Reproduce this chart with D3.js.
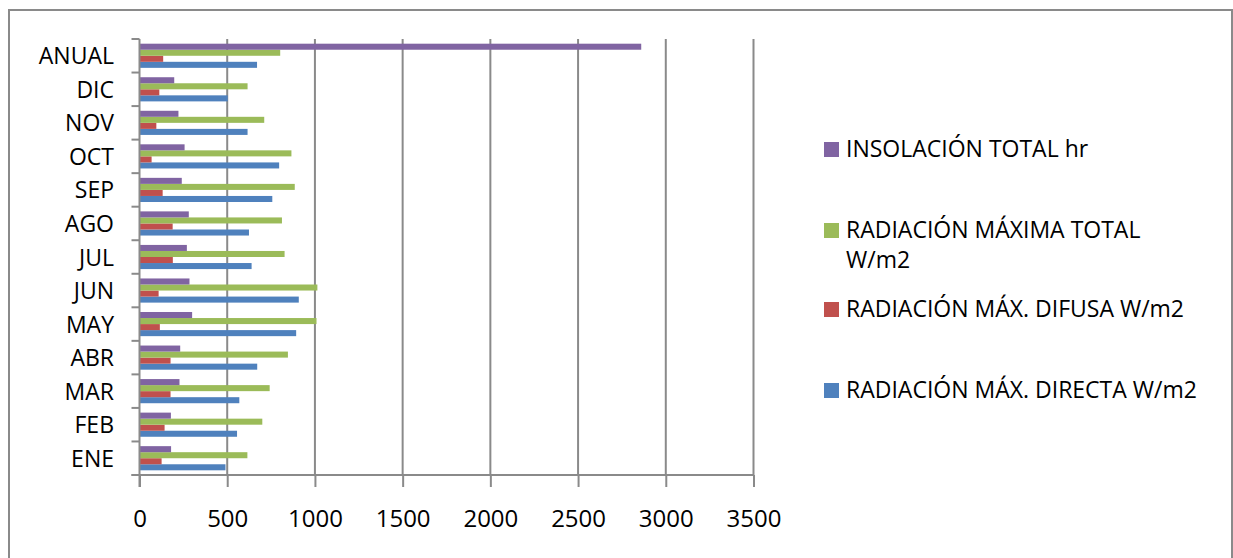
<!DOCTYPE html>
<html><head><meta charset="utf-8">
<script src="https://cdn.jsdelivr.net/npm/d3@7"></script>
<style>body{margin:0;background:#fff}svg{display:block}text{font-family:"Open Sans",sans-serif;fill:#000}</style>
</head><body><div id="chart"></div>
<script>
const categories = ["ENE","FEB","MAR","ABR","MAY","JUN","JUL","AGO","SEP","OCT","NOV","DIC","ANUAL"];
const directa  = [490,556,569,671,893,908,639,624,757,796,616,503,670];
const difusa   = [126,143,177,177,116,109,190,189,132,69,96,113,135];
const total    = [615,700,742,846,1009,1014,827,812,885,866,711,616,802];
const insol    = [180,179,228,232,300,285,270,281,241,257,222,198,2860];
const seriesNames = ["RADIACIÓN MÁX. DIRECTA W/m2","RADIACIÓN MÁX. DIFUSA W/m2","RADIACIÓN MÁXIMA TOTAL W/m2","INSOLACIÓN TOTAL hr"];
const colors = ["#4F81BD","#C0504D","#9BBB59","#8064A2"];
const xTicks = [0,500,1000,1500,2000,2500,3000,3500];
const seriesData = [directa, difusa, total, insol];

const W=1233,H=558;
const svg=d3.select("#chart").append("svg").attr("width",W).attr("height",H);
svg.append("rect").attr("x",9).attr("y",10).attr("width",1223).attr("height",560)
  .attr("fill","none").attr("stroke","#8a8a8a").attr("stroke-width",2);

const L=139.5,R=753.5,T=39,B=475;
const x=d3.scaleLinear().domain([0,3500]).range([L,R]);
const y=d3.scaleBand().domain(categories.slice().reverse()).range([T,B]).paddingInner(0.28).paddingOuter(0.14);
const yi=d3.scaleBand().domain([3,2,1,0]).range([0,y.bandwidth()]);

// gridlines
svg.append("g").selectAll("line").data(xTicks.slice(1)).join("line")
  .attr("x1",d=>x(d)).attr("x2",d=>x(d)).attr("y1",T).attr("y2",B)
  .attr("stroke","#8a8a8a").attr("stroke-width",2);

// bars
seriesData.forEach((vals,si)=>{
  svg.append("g").selectAll("rect").data(categories).join("rect")
    .attr("x",x(0)).attr("y",(c)=>y(c)+yi(si))
    .attr("width",(c,i)=>x(vals[i])-x(0)).attr("height",yi.bandwidth())
    .attr("fill",colors[si]);
});

// x axis
const xa=svg.append("g").attr("transform",`translate(0,${B})`)
  .call(d3.axisBottom(x).tickValues(xTicks).tickSize(12).tickPadding(23).tickFormat(d3.format("d")));
xa.select(".domain").attr("stroke","#8a8a8a").attr("stroke-width",2).attr("d",`M${L-8},0H${R}`);
xa.selectAll(".tick line").attr("stroke","#8a8a8a").attr("stroke-width",2);
xa.selectAll(".tick text").attr("font-size",24).attr("font-family","Open Sans");

// y axis
const step=y.step();
const bounds=d3.range(categories.length+1).map(i=>B-i*step);
svg.append("line").attr("x1",L).attr("x2",L).attr("y1",T).attr("y2",B+12).attr("stroke","#8a8a8a").attr("stroke-width",2);
svg.append("g").selectAll("line").data(bounds).join("line")
  .attr("x1",L-8).attr("x2",L).attr("y1",d=>d).attr("y2",d=>d).attr("stroke","#8a8a8a").attr("stroke-width",2);
svg.append("g").selectAll("text").data(categories).join("text")
  .attr("x",114).attr("y",c=>y(c)+y.bandwidth()/2+8.5)
  .attr("text-anchor","end").attr("font-size",23).text(c=>c);

// legend
const legend=[
  {i:3,lines:["INSOLACIÓN TOTAL hr"],base:157},
  {i:2,lines:["RADIACIÓN MÁXIMA TOTAL","W/m2"],base:238},
  {i:1,lines:["RADIACIÓN MÁX. DIFUSA W/m2"],base:317},
  {i:0,lines:["RADIACIÓN MÁX. DIRECTA W/m2"],base:398}
];
const lg=svg.append("g");
legend.forEach(d=>{
  lg.append("rect").attr("x",824).attr("y",d.base-15).attr("width",15).attr("height",15).attr("fill",colors[d.i]);
  d.lines.forEach((t,k)=>{
    lg.append("text").attr("x",846).attr("y",d.base+k*30).attr("font-size",23).text(t);
  });
});
</script></body></html>
